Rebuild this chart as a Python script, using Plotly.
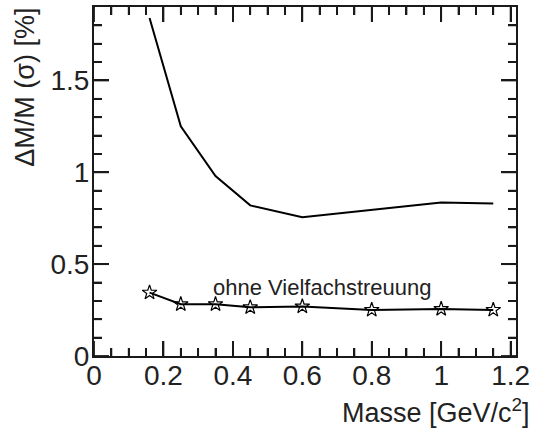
import plotly.graph_objects as go

masse = [0.16, 0.25, 0.35, 0.45, 0.6, 0.8, 1.0, 1.15]
mit_streuung = [1.84, 1.25, 0.98, 0.82, 0.755, 0.795, 0.835, 0.83]
ohne_streuung = [0.345, 0.282, 0.282, 0.265, 0.27, 0.251, 0.256, 0.251]

x_major = [0, 0.2, 0.4, 0.6, 0.8, 1.0, 1.2]
y_major = [0, 0.5, 1.0, 1.5]
x_minor = [i * 0.05 for i in range(1, 25) if i % 4 != 0]
y_minor = [i * 0.1 for i in range(1, 19) if i % 5 != 0]

label_ohne = "ohne Vielfachstreuung"
x_title = "Masse [GeV/c<sup>2</sup>]"
y_title = "ΔM/M (σ) [%]"

FONT = "Liberation Sans, Arial, sans-serif"
TXT = "#222"
TICK = "#1a1a1a"
X_RANGE = [0, 1.2155]
Y_RANGE = [0, 1.9]

fig = go.Figure()
fig.add_trace(go.Scatter(x=masse, y=mit_streuung, mode="lines",
                         line=dict(color="black", width=2), showlegend=False))
fig.add_trace(go.Scatter(x=masse, y=ohne_streuung, mode="lines+markers",
                         line=dict(color="black", width=2),
                         marker=dict(symbol="star-open", size=11, color="black",
                                     line=dict(width=1.2, color="black")),
                         showlegend=False))


def ax(step, minor_step, **kw):
    d = dict(showgrid=False, zeroline=False, ticks="inside", tickcolor=TICK,
             linecolor=TICK, linewidth=2, showline=True, mirror="allticks",
             dtick=step, ticklen=15, tickwidth=2,
             minor=dict(ticks="inside", dtick=minor_step, ticklen=8,
                        tickwidth=2, tickcolor=TICK))
    d.update(kw)
    return d


fig.update_layout(
    width=535, height=432,
    margin=dict(l=94, r=18, t=5, b=76),
    plot_bgcolor="white", paper_bgcolor="white",
    font=dict(family=FONT, color=TXT, size=28),
    xaxis=ax(0.2, 0.05, range=X_RANGE, ticklabelstandoff=-7),
    yaxis=ax(0.5, 0.1, range=Y_RANGE, ticklabelstandoff=-3),
)

# tick marks on all four sides (drawn through the axes' scales)
tick_line = dict(color=TICK, width=1.8)
for vals, length in ((x_major, 15), (x_minor, 8)):
    for v in vals:
        fig.add_shape(type="line", xref="x", x0=v, x1=v, yref="y domain",
                      ysizemode="pixel", yanchor=0, y0=0, y1=length,
                      line=tick_line, layer="above")
        fig.add_shape(type="line", xref="x", x0=v, x1=v, yref="y domain",
                      ysizemode="pixel", yanchor=1, y0=0, y1=-length,
                      line=tick_line, layer="above")
for vals, length in ((y_major, 15), (y_minor, 8)):
    for v in vals:
        fig.add_shape(type="line", yref="y", y0=v, y1=v, xref="x domain",
                      xsizemode="pixel", xanchor=0, x0=0, x1=length,
                      line=tick_line, layer="above")
        fig.add_shape(type="line", yref="y", y0=v, y1=v, xref="x domain",
                      xsizemode="pixel", xanchor=1, x0=0, x1=-length,
                      line=tick_line, layer="above")

fig.add_annotation(x=0.658, y=0.375, xref="x", yref="y", text=label_ohne,
                   showarrow=False, font=dict(size=22, family=FONT, color=TXT),
                   xanchor="center", yanchor="middle")
fig.add_annotation(x=(533 - 94) / 423, y=(356 - 411) / 351, xref="paper", yref="paper",
                   text=x_title,
                   showarrow=False, font=dict(size=27, family=FONT, color=TXT),
                   xanchor="right", yanchor="middle")
fig.add_annotation(x=-70 / 423, y=1 - (86 - 5) / 351, xref="paper", yref="paper",
                   text=y_title, textangle=-90,
                   showarrow=False, font=dict(size=27, family=FONT, color=TXT),
                   xanchor="center", yanchor="middle")

fig.write_html("out.html")
